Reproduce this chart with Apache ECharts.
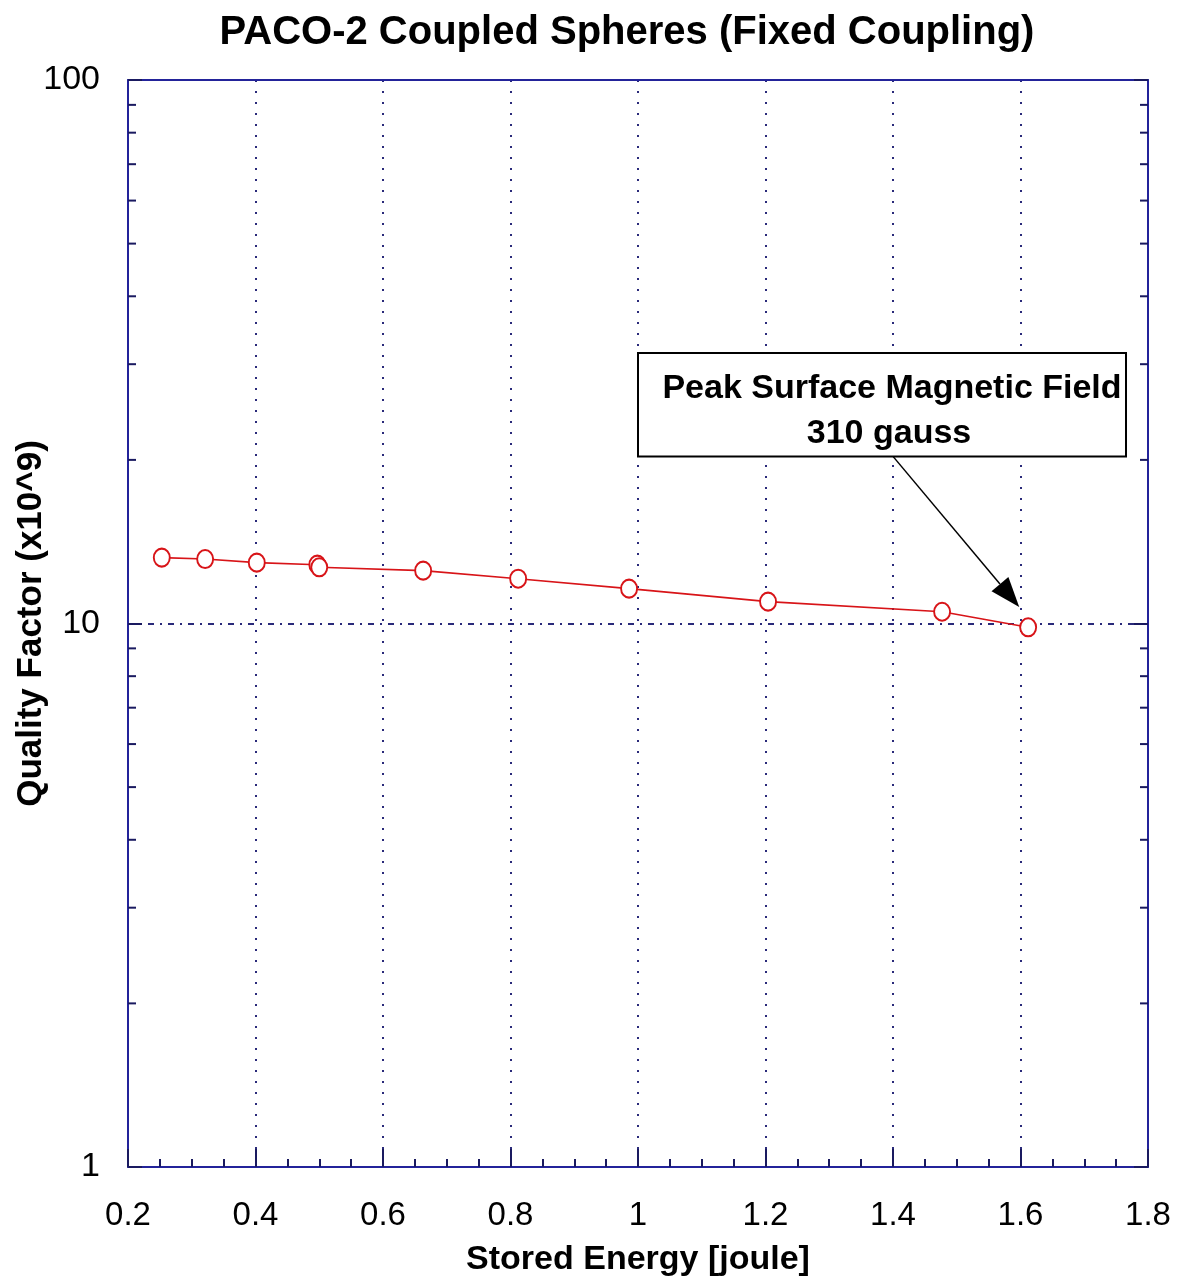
<!DOCTYPE html>
<html>
<head>
<meta charset="utf-8">
<script src="https://cdn.jsdelivr.net/npm/echarts@6/dist/echarts.min.js"></script>
<style>html,body{margin:0;padding:0;background:#fff;}#c{width:1177px;height:1279px;}</style>
</head>
<body>
<div id="c"></div>
<script>
// Data
const storedEnergy = [0.253, 0.321, 0.402, 0.497, 0.500, 0.663, 0.812, 0.986, 1.204, 1.477, 1.612];
const qualityFactor = [13.22, 13.14, 12.94, 12.83, 12.69, 12.51, 12.09, 11.59, 10.97, 10.51, 9.84];
const yMinorTickValues = [2, 3, 4, 5, 6, 7, 8, 9, 20, 30, 40, 50, 60, 70, 80, 90];
const titleText = 'PACO-2 Coupled Spheres (Fixed Coupling)';
const xName = 'Stored Energy [joule]';
const yName = 'Quality Factor (x10^9)';
const noteLines = ['Peak Surface Magnetic Field', '310 gauss'];
// annotation anchors in data space
const noteBox = { x0: 1.0, y0: 31.46, x1: 1.7655, y1: 20.3 };
const arrowFrom = [1.4, 20.3];
const arrowTo = [1.598, 10.72];

const AXIS = '#23239a';
const GRID = '#2a2a7a';
const RED = '#d81418';
const FONT = '"Liberation Sans", Arial, sans-serif';

const chart = echarts.init(document.getElementById('c'), null, { renderer: 'canvas' });

const option = {
  backgroundColor: '#ffffff',
  animation: false,
  title: {
    text: titleText,
    left: 622, top: 8, textAlign: 'center',
    textStyle: { fontFamily: FONT, fontWeight: 'bold', fontSize: 40, color: '#000' }
  },
  grid: { left: 128, top: 80, right: 29, bottom: 112, containLabel: false, outerBoundsMode: 'none' },
  xAxis: [{
    type: 'value', min: 0.2, max: 1.8, interval: 0.2,
    name: xName, nameLocation: 'middle', nameGap: 76, nameMoveOverlap: false,
    nameTextStyle: { fontFamily: FONT, fontWeight: 'bold', fontSize: 34, color: '#000' },
    axisLine: { show: true, lineStyle: { color: AXIS, width: 2 } },
    axisTick: { show: true, inside: true, length: 18, lineStyle: { color: '#1a1a60', width: 2 } },
    minorTick: { show: true, splitNumber: 4, length: 8, lineStyle: { color: '#1a1a60', width: 2 } },
    axisLabel: { margin: 32, fontFamily: FONT, fontSize: 33, color: '#000',
      formatter: v => String(+v.toFixed(1)) },
    splitLine: { show: true, lineStyle: { color: GRID, width: 2, type: [2, 9] } }
  }, {
    type: 'value', position: 'top', min: 0.2, max: 1.8, interval: 0.2,
    axisLine: { show: true, lineStyle: { color: AXIS, width: 2 } },
    axisTick: { show: false }, axisLabel: { show: false }, splitLine: { show: false }
  }],
  yAxis: [{
    type: 'log', logBase: 10, min: 1, max: 100,
    name: yName, nameLocation: 'middle', nameGap: 79, nameMoveOverlap: false,
    nameTextStyle: { fontFamily: FONT, fontWeight: 'bold', fontSize: 35, color: '#000' },
    axisLine: { show: true, lineStyle: { color: AXIS, width: 2 } },
    axisTick: { show: true, inside: true, length: 14, lineStyle: { color: '#1a1a60', width: 2 } },
    axisLabel: { margin: 28, fontFamily: FONT, fontSize: 34, color: '#000' },
    splitLine: { show: true, lineStyle: { color: GRID, width: 2, type: [6, 6, 2, 6] } }
  }, {
    type: 'log', logBase: 10, min: 1, max: 100, position: 'right',
    axisLine: { show: true, lineStyle: { color: AXIS, width: 2 } },
    axisTick: { show: true, inside: true, length: 14, lineStyle: { color: '#1a1a60', width: 2 } },
    axisLabel: { show: false }, splitLine: { show: false }
  }],
  series: [{
    type: 'line',
    data: storedEnergy.map((x, i) => [x, qualityFactor[i]]),
    xAxisIndex: 0, yAxisIndex: 0,
    lineStyle: { color: RED, width: 1.6 },
    symbol: 'emptyCircle', symbolSize: [16, 18],
    itemStyle: { color: RED, borderColor: RED, borderWidth: 1.6 },
    z: 5
  }, {
    type: 'custom',
    xAxisIndex: 0, yAxisIndex: 0,
    silent: true, clip: false,
    data: yMinorTickValues.map(v => [0.2, v]),
    renderItem: function (params, api) {
      const v = api.value(1);
      const l = api.coord([0.2, v]);
      const r = api.coord([1.8, v]);
      const st = { stroke: '#1a1a60', lineWidth: 2 };
      return { type: 'group', children: [
        { type: 'line', shape: { x1: l[0], y1: l[1], x2: l[0] + 8, y2: l[1] }, style: st },
        { type: 'line', shape: { x1: r[0], y1: r[1], x2: r[0] - 8, y2: r[1] }, style: st }
      ]};
    },
    z: 3
  }]
};
chart.setOption(option);

// annotation box and arrow, positioned through the chart's own scales
const p0 = chart.convertToPixel({ gridIndex: 0 }, [noteBox.x0, noteBox.y0]);
const p1 = chart.convertToPixel({ gridIndex: 0 }, [noteBox.x1, noteBox.y1]);
const a0 = chart.convertToPixel({ gridIndex: 0 }, arrowFrom);
const a1 = chart.convertToPixel({ gridIndex: 0 }, arrowTo);
const dx = a1[0] - a0[0], dy = a1[1] - a0[1];
const len = Math.sqrt(dx * dx + dy * dy);
const ux = dx / len, uy = dy / len;
const headLen = 30, headW = 11;
const bx = a1[0] - ux * headLen, by = a1[1] - uy * headLen;
const textCx = (p0[0] + p1[0]) / 2 + 10;

chart.setOption({
  graphic: [
    { type: 'rect', shape: { x: p0[0], y: p0[1], width: p1[0] - p0[0], height: p1[1] - p0[1] },
      style: { fill: '#fff', stroke: '#000', lineWidth: 2 }, z: 10 },
    { type: 'text', x: textCx, y: p0[1] + 36, z: 11,
      style: { text: noteLines[0], fontFamily: FONT, fontWeight: 'bold', fontSize: 34, fill: '#000', align: 'center', verticalAlign: 'middle' } },
    { type: 'text', x: textCx - 3, y: p0[1] + 81, z: 11,
      style: { text: noteLines[1], fontFamily: FONT, fontWeight: 'bold', fontSize: 34, fill: '#000', align: 'center', verticalAlign: 'middle' } },
    { type: 'line', shape: { x1: a0[0], y1: a0[1], x2: bx, y2: by },
      style: { stroke: '#000', lineWidth: 1.5 }, z: 10 },
    { type: 'polygon', shape: { points: [[a1[0], a1[1]], [bx - uy * headW, by + ux * headW], [bx + uy * headW, by - ux * headW]] },
      style: { fill: '#000' }, z: 10 }
  ]
});
</script>
</body>
</html>
